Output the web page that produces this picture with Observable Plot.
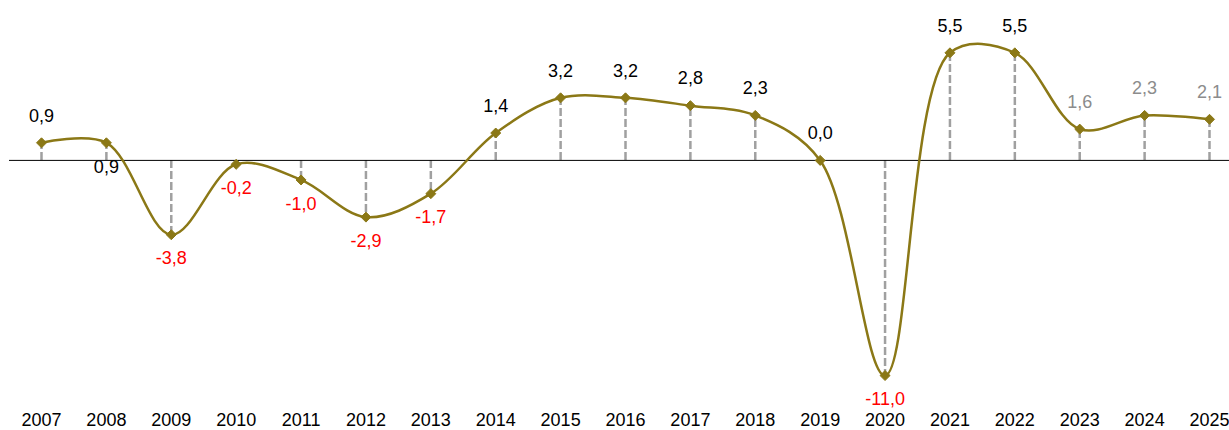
<!DOCTYPE html>
<html>
<head>
<meta charset="utf-8">
<script src="https://cdn.jsdelivr.net/npm/d3@7"></script>
<script src="https://cdn.jsdelivr.net/npm/@observablehq/plot@0.6"></script>
<style>
  html, body { margin: 0; padding: 0; background: #fff; }
  #chart svg { display: block; }
</style>
</head>
<body>
<div id="chart"></div>
<script>
const years = [2007, 2008, 2009, 2010, 2011, 2012, 2013, 2014, 2015, 2016, 2017, 2018, 2019, 2020, 2021, 2022, 2023, 2024, 2025];
const values = [0.9, 0.9, -3.8, -0.2, -1.0, -2.9, -1.7, 1.4, 3.2, 3.2, 2.8, 2.3, 0.0, -11.0, 5.5, 5.5, 1.6, 2.3, 2.1];
const forecastYears = [2023, 2024, 2025];
const labelBelow = [2008];

const data = years.map((y, i) => ({
  year: y,
  value: values[i],
  label: values[i].toFixed(1).replace(".", ","),
  forecast: forecastYears.includes(y),
  below: values[i] < 0 || labelBelow.includes(y)
}));

const lineColor = "#8b7816";
const colorOf = d => d.forecast ? "#8c8c8c" : (d.value < 0 ? "#ff0000" : "#000000");
const font = "Liberation Sans, Arial, sans-serif";

const chart = Plot.plot({
  width: 1229,
  height: 430,
  marginLeft: 0,
  marginRight: 0,
  marginTop: 23,
  marginBottom: 35.4,
  style: { fontFamily: font, fontSize: "18px", background: "#fff" },
  x: { domain: [2007, 2025], range: [41, 1209], axis: null },
  y: { domain: [-12, 7], axis: null },
  marks: [
    Plot.ruleX(data, { x: "year", y1: 0, y2: "value", stroke: "#a0a0a0", strokeWidth: 2.5, strokeDasharray: "8,3" }),
    Plot.ruleY([0], { x1: 2007 - 32 / 64.9, x2: 2025 + 20 / 64.9, stroke: "#000", strokeWidth: 1 }),
    Plot.line(data, { x: "year", y: "value", curve: "catmull-rom", stroke: lineColor, strokeWidth: 2.5 }),
    Plot.dot(data, { x: "year", y: "value", symbol: "diamond2", r: 4.5, fill: lineColor, stroke: lineColor, strokeWidth: 1 }),
    Plot.text(data.filter(d => !d.below), { x: "year", y: "value", text: "label", dy: -27, fill: colorOf, fontSize: 18, fontFamily: font }),
    Plot.text(data.filter(d => d.below), { x: "year", y: "value", text: "label", dy: 24, fill: colorOf, fontSize: 18, fontFamily: font }),
    Plot.axisX(years, { x: d => d, y: -12, tickSize: 0, tickPadding: 18, tickFormat: d => String(d), fontSize: 18, fill: "#000", anchor: "bottom", label: null })
  ]
});
document.getElementById("chart").appendChild(chart);
</script>
</body>
</html>
